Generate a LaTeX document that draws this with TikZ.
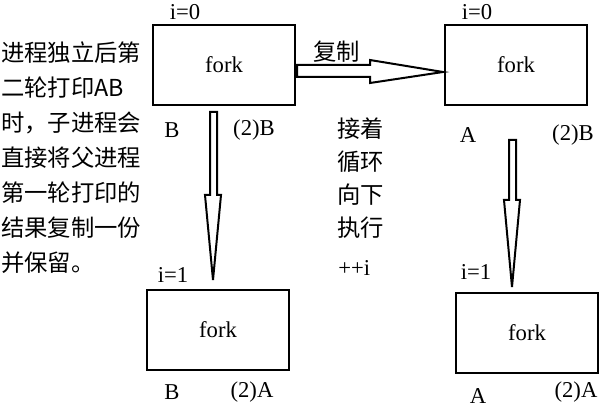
\documentclass[tikz,border=0pt]{standalone}
\usepackage{fontspec}
\setmainfont{Liberation Serif}
\newfontfamily\cjk{Noto Sans CJK SC}
\begin{document}
\begin{tikzpicture}[x=0.75pt,y=-0.75pt,
    procbox/.style={draw,line width=1.5pt,minimum width=107pt,minimum height=60pt,font=\fontsize{17}{17}\selectfont},
    lbl/.style={font=\fontsize{17}{17}\selectfont,inner sep=0pt},
    zh/.style={font=\cjk\fontsize{17.5}{17.5}\selectfont,inner sep=0pt,anchor=west},
    blockarrow/.style={draw,line width=1.5pt,fill=white}]
  \useasboundingbox (0,0) rectangle (601,410);
  % boxes
  \node[procbox] (p0) at (224,65) {fork};
  \node[procbox] (c0) at (516,65) {fork};
  \node[procbox] (p1) at (218,330) {fork};
  \node[procbox] (c1) at (527,333) {fork};
  % labels above boxes
  \node[lbl] (ip0) at (185,12) {i=0};
  \node[lbl] (ic0) at (477,12) {i=0};
  \node[lbl] (ip1) at (173,275) {i=1};
  \node[lbl] (ic1) at (476,272) {i=1};
  % outputs
  \node[lbl] (o1) at (172,130) {B};
  \node[lbl] (o2) at (254,130) {(2)B};
  \node[lbl] (o3) at (468,135) {A};
  \node[lbl] (o4) at (573,135) {(2)B};
  \node[lbl] (o5) at (172,392) {B};
  \node[lbl] (o6) at (252,392) {(2)A};
  \node[lbl] (o7) at (478,396) {A};
  \node[lbl] (o8) at (576,392) {(2)A};
  % hollow block arrows
  \draw[blockarrow] (297,65) -- (370,65) -- (370,60) -- (443,72) -- (370,83) -- (370,77) -- (297,77) -- cycle;
  \draw[blockarrow] (210,112) -- (210,195) -- (205,195) -- (213,280) -- (221,195) -- (217,195) -- (217,112) -- cycle;
  \draw[blockarrow] (509,140) -- (509,200) -- (504,200) -- (512,287) -- (520,200) -- (516,200) -- (516,140) -- cycle;
  \node[zh,anchor=south west] (cp) at (313,63) {复制};
  % side notes
  \foreach \t [count=\i] in {接着,循环,向下,执行}
    \node[zh] (r\i) at (337,96+\i*33) {\t};
  \node[lbl,anchor=west] (inc) at (338,268) {++i};
  \foreach \t [count=\i] in {进程独立后第,二轮打印AB,时，子进程会,直接将父进程,第一轮打印的,结果复制一份,并保留。}
    \node[zh] (l\i) at (1,18+\i*35) {\t};
\end{tikzpicture}
\end{document}
